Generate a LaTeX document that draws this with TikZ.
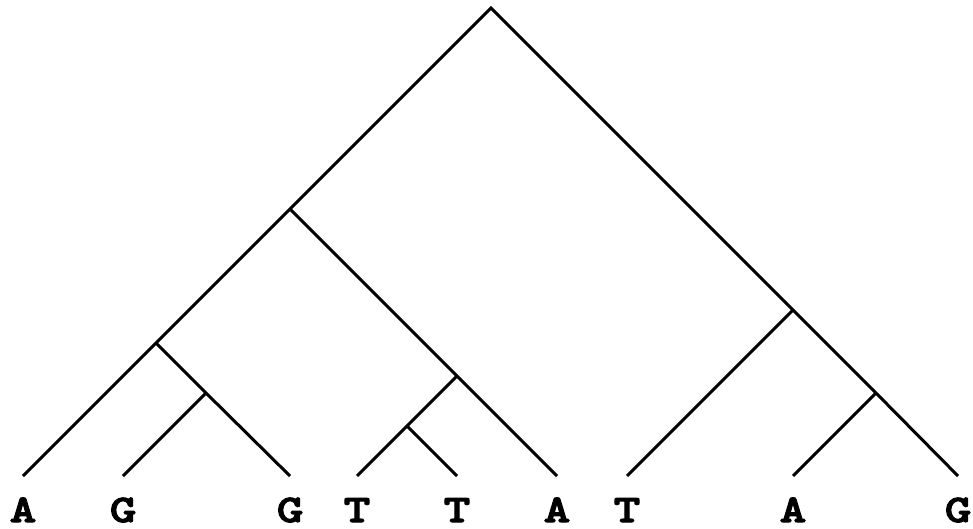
\documentclass[tikz,border=0pt]{standalone}
\usepackage{fontspec}
\newfontfamily\leaffont{lmmonolt10-bold.otf}[FakeBold=3,FakeStretch=1.3]

\begin{document}
\begin{tikzpicture}[x=1pt,y=-1pt,
  branch/.style={line width=3pt},
  base/.style={font=\leaffont\fontsize{39}{39}\selectfont,anchor=base,inner sep=0pt}]
\useasboundingbox (0,0) rectangle (973,529);

% inner nodes
\coordinate (root) at (491,8);
\coordinate (L) at (290,209);
\coordinate (LL) at (156,343);
\coordinate (LLR) at (206,393);
\coordinate (LR) at (457,376);
\coordinate (LRL) at (407,426);
\coordinate (R) at (793,310);
\coordinate (RR) at (876,393);

% leaves
\foreach \name/\x/\b in {A1/23/A,G1/123/G,G2/290/G,T1/357/T,T2/457/T,A2/557/A,T3/627/T,A3/793/A,G3/958/G}{
  \coordinate (\name) at (\x,476);
  \node[base] (b\name) at (\x,522) {\b};
}

\draw[branch] (A1) -- (LL) -- (L) -- (root) -- (R) -- (RR) -- (G3);
\draw[branch] (LL) -- (LLR) -- (G2);
\draw[branch] (LLR) -- (G1);
\draw[branch] (L) -- (LR) -- (A2);
\draw[branch] (LR) -- (LRL) -- (T1);
\draw[branch] (LRL) -- (T2);
\draw[branch] (R) -- (T3);
\draw[branch] (RR) -- (A3);
\end{tikzpicture}
\end{document}
